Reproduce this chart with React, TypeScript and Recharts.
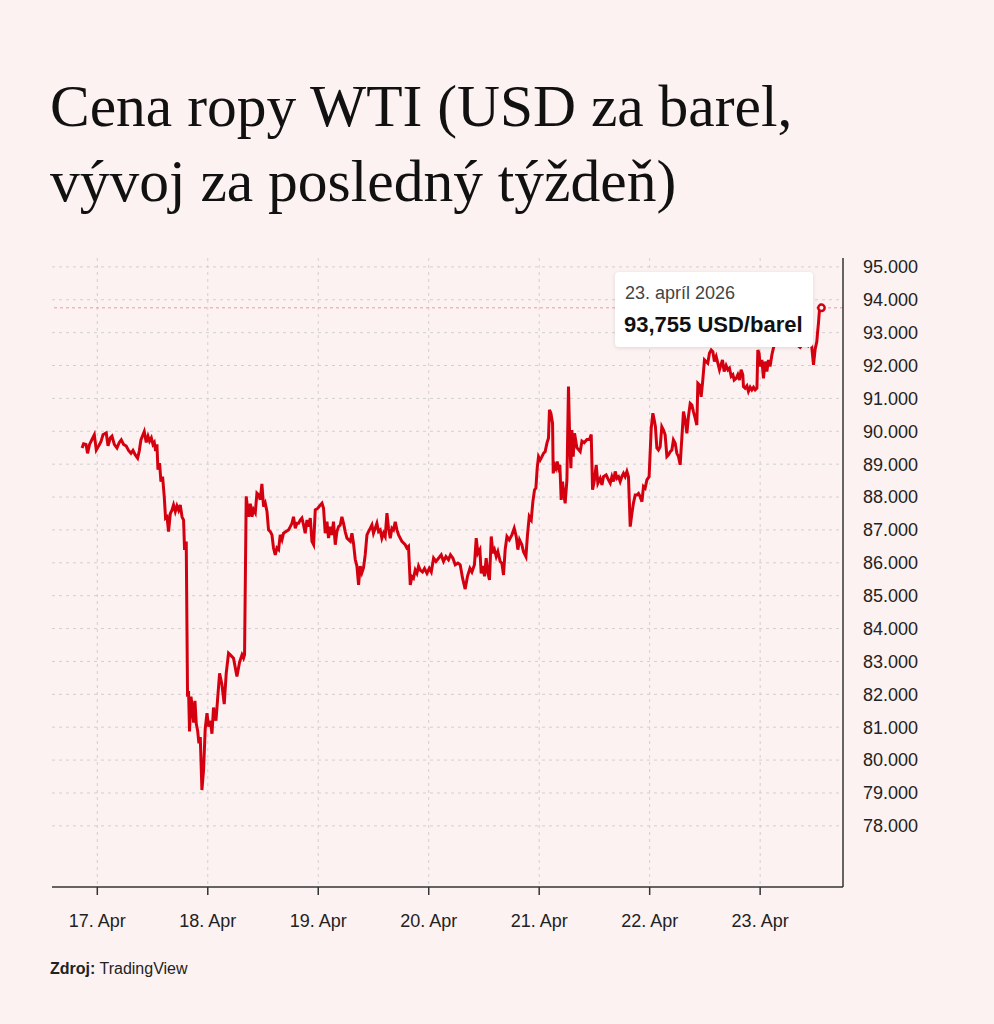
import { LineChart, Line, XAxis, YAxis, CartesianGrid, ReferenceLine, ReferenceDot } from "recharts";

// [deň od 17. apríla, cena v USD]
const APR17 = [
    [-0.138, 89.49], [-0.124, 89.62], [-0.102, 89.6], [-0.088, 89.33], [-0.07, 89.6], [-0.048, 89.75], [-0.027, 89.89],
    [-0.009, 89.43], [0.012, 89.55], [0.033, 89.68], [0.052, 89.9], [0.066, 89.92], [0.081, 89.95], [0.097, 89.56],
    [0.118, 89.8], [0.133, 89.85], [0.154, 89.6], [0.178, 89.49], [0.199, 89.66], [0.217, 89.74], [0.238, 89.6],
    [0.262, 89.55], [0.283, 89.42], [0.305, 89.33], [0.323, 89.42], [0.344, 89.28], [0.365, 89.18], [0.38, 89.4],
    [0.395, 89.74], [0.414, 89.9], [0.425, 89.99], [0.443, 89.66], [0.459, 89.85], [0.473, 89.7], [0.489, 89.8],
    [0.504, 89.6], [0.516, 89.66], [0.528, 89.4], [0.54, 89.6], [0.549, 88.83], [0.564, 89.03], [0.576, 88.47],
    [0.591, 88.62], [0.606, 88.01], [0.618, 87.36], [0.631, 87.4], [0.645, 86.95], [0.661, 87.5], [0.676, 87.6],
    [0.69, 87.76], [0.706, 87.56], [0.721, 87.73], [0.736, 87.6], [0.751, 87.76], [0.767, 87.4], [0.781, 87.3],
    [0.79, 86.39], [0.805, 86.65], [0.817, 81.93], [0.826, 82.1], [0.835, 80.87], [0.848, 81.93], [0.86, 81.6],
    [0.872, 81.14], [0.884, 81.8], [0.896, 81.1], [0.908, 80.9], [0.92, 80.51], [0.932, 80.7], [0.947, 79.09],
    [0.962, 79.7], [0.977, 80.96], [0.993, 81.43],
];

const APR18 = [
    [1.007, 81.02], [1.023, 81.2], [1.038, 80.8], [1.052, 81.6], [1.074, 81.2], [1.089, 81.85], [1.107, 82.64],
    [1.128, 82.3], [1.149, 81.7], [1.167, 82.64], [1.188, 83.25], [1.204, 83.2], [1.233, 83.1], [1.264, 82.54],
    [1.288, 82.98], [1.31, 83.2], [1.324, 83.1], [1.333, 83.2], [1.348, 88.02], [1.369, 87.4], [1.385, 87.8],
    [1.4, 87.4], [1.414, 87.62], [1.43, 87.52], [1.445, 88.12], [1.46, 88.07], [1.475, 87.92], [1.49, 88.4],
    [1.505, 87.71], [1.52, 87.82], [1.536, 87.56], [1.55, 87.0], [1.566, 86.95], [1.581, 86.85], [1.595, 86.45],
    [1.611, 86.24], [1.626, 86.45], [1.641, 86.4], [1.656, 86.85], [1.672, 86.7], [1.686, 86.9], [1.708, 86.95],
    [1.731, 87.0], [1.747, 87.1], [1.762, 87.2], [1.776, 87.4], [1.792, 87.05], [1.807, 87.2], [1.822, 87.2],
    [1.837, 87.3], [1.852, 87.36], [1.867, 87.15], [1.882, 86.9], [1.898, 87.3], [1.912, 87.1], [1.928, 87.36],
    [1.943, 86.65], [1.958, 86.55], [1.973, 87.61], [1.997, 87.66],
];

const APR19 = [
    [2.012, 87.73], [2.034, 87.81], [2.048, 87.66], [2.063, 86.9], [2.079, 87.25], [2.093, 86.75], [2.109, 87.1],
    [2.124, 86.85], [2.138, 87.25], [2.154, 86.55], [2.169, 86.95], [2.184, 87.1], [2.199, 87.15], [2.214, 87.4],
    [2.229, 87.2], [2.244, 86.95], [2.26, 86.75], [2.274, 86.7], [2.29, 86.65], [2.305, 86.9], [2.319, 86.6],
    [2.335, 86.1], [2.35, 85.9], [2.365, 85.33], [2.38, 85.9], [2.395, 85.7], [2.41, 85.85], [2.425, 86.24],
    [2.441, 86.85], [2.455, 86.95], [2.471, 87.05], [2.486, 87.15], [2.5, 86.9], [2.516, 87.05], [2.531, 87.2],
    [2.546, 86.95], [2.561, 87.0], [2.576, 86.75], [2.591, 86.9], [2.606, 86.8], [2.622, 87.51], [2.636, 87.05],
    [2.652, 86.75], [2.667, 87.05], [2.681, 87.0], [2.697, 87.25], [2.712, 87.0], [2.727, 86.85], [2.757, 86.65],
    [2.787, 86.55], [2.802, 86.45], [2.817, 86.5], [2.833, 85.33], [2.848, 85.58], [2.862, 85.53], [2.878, 85.78],
    [2.893, 85.68], [2.908, 85.9], [2.923, 85.78], [2.944, 85.72], [2.962, 85.83], [2.984, 85.68],
];

const APR20 = [
    [3.005, 85.83], [3.023, 85.72], [3.044, 86.14], [3.065, 86.04], [3.089, 86.14], [3.113, 86.24], [3.134, 86.04],
    [3.156, 86.19], [3.179, 86.09], [3.197, 86.24], [3.219, 86.14], [3.24, 85.94], [3.264, 85.99], [3.285, 85.94],
    [3.306, 85.54], [3.33, 85.2], [3.351, 85.59], [3.373, 85.83], [3.391, 85.72], [3.414, 85.94], [3.43, 86.75],
    [3.445, 86.29], [3.463, 86.4], [3.475, 85.68], [3.49, 85.9], [3.505, 85.59], [3.52, 86.14], [3.536, 85.68],
    [3.55, 85.48], [3.566, 86.8], [3.581, 86.29], [3.595, 86.4], [3.611, 86.19], [3.626, 86.34], [3.647, 86.04],
    [3.662, 85.99], [3.677, 85.63], [3.692, 86.4], [3.708, 86.8], [3.729, 86.7], [3.753, 86.85], [3.774, 87.05],
    [3.792, 86.8], [3.807, 86.4], [3.822, 86.7], [3.843, 86.55], [3.858, 86.34], [3.88, 86.19], [3.894, 86.85],
    [3.91, 87.41], [3.928, 87.31], [3.943, 87.87], [3.958, 88.22], [3.97, 88.27], [3.982, 88.88], [3.994, 89.23],
];

const APR21 = [
    [4.009, 89.13], [4.025, 89.23], [4.039, 89.33], [4.054, 89.38], [4.07, 89.64], [4.084, 89.79], [4.093, 90.65],
    [4.106, 90.55], [4.121, 90.24], [4.127, 88.72], [4.139, 88.98], [4.151, 88.88], [4.163, 89.08], [4.175, 88.88],
    [4.187, 88.98], [4.199, 87.91], [4.211, 88.47], [4.224, 88.06], [4.235, 87.81], [4.251, 88.52], [4.265, 91.36],
    [4.278, 89.53], [4.287, 88.88], [4.296, 90.04], [4.308, 89.23], [4.32, 89.94], [4.341, 89.5], [4.371, 89.38],
    [4.387, 89.7], [4.407, 89.65], [4.432, 89.75], [4.455, 89.75], [4.471, 89.9], [4.483, 88.22], [4.498, 88.47],
    [4.516, 88.98], [4.531, 88.42], [4.552, 88.57], [4.568, 88.37], [4.582, 88.62], [4.606, 88.67], [4.627, 88.52],
    [4.643, 88.42], [4.658, 88.62], [4.672, 88.47], [4.688, 88.78], [4.703, 88.57], [4.718, 88.62], [4.733, 88.47],
    [4.748, 88.62], [4.763, 88.72], [4.778, 88.62], [4.794, 88.78], [4.808, 88.62], [4.824, 87.1], [4.839, 87.5],
    [4.853, 87.81], [4.869, 88.06], [4.884, 88.06], [4.899, 88.11], [4.914, 88.01], [4.93, 87.86], [4.944, 88.32],
    [4.959, 88.27], [4.975, 88.52], [4.995, 88.62],
];

const APR22 = [
    [5.014, 90.09], [5.029, 90.55], [5.041, 90.35], [5.052, 90.14], [5.065, 89.49], [5.079, 89.43], [5.095, 89.53],
    [5.11, 90.14], [5.125, 90.04], [5.14, 89.89], [5.156, 89.23], [5.17, 89.28], [5.186, 89.38], [5.201, 89.43],
    [5.215, 89.74], [5.231, 89.64], [5.246, 89.33], [5.261, 89.23], [5.276, 88.98], [5.292, 89.84], [5.306, 90.6],
    [5.321, 90.35], [5.337, 89.94], [5.351, 90.45], [5.367, 90.85], [5.382, 90.8], [5.396, 90.6], [5.412, 90.4],
    [5.427, 90.19], [5.436, 91.46], [5.451, 91.41], [5.466, 91.05], [5.481, 91.56], [5.496, 92.17], [5.511, 92.12],
    [5.526, 92.07], [5.541, 92.37], [5.557, 92.47], [5.572, 92.42], [5.586, 92.12], [5.602, 92.27], [5.617, 92.07],
    [5.632, 91.87], [5.659, 92.17], [5.674, 91.82], [5.692, 92.0], [5.708, 91.87], [5.722, 91.92], [5.738, 91.67],
    [5.753, 91.72], [5.765, 91.56], [5.783, 91.61], [5.798, 91.72], [5.813, 91.56], [5.828, 91.87], [5.843, 91.72],
    [5.849, 91.36], [5.864, 91.31], [5.88, 91.38], [5.894, 91.21], [5.91, 91.34], [5.925, 91.26], [5.94, 91.34],
    [5.955, 91.26], [5.971, 91.31], [5.979, 92.47], [5.991, 92.37],
];

const APR23 = [
    [6.0, 91.97], [6.016, 92.17], [6.03, 91.61], [6.045, 92.12], [6.061, 91.82], [6.075, 92.17], [6.09, 91.97],
    [6.106, 92.32], [6.12, 92.53], [6.145, 92.8], [6.181, 93.05], [6.217, 93.2], [6.253, 92.95], [6.29, 92.8],
    [6.326, 92.65], [6.362, 92.55], [6.398, 92.7], [6.434, 92.6], [6.462, 92.75], [6.483, 92.02], [6.498, 92.5],
    [6.513, 92.73], [6.519, 92.98], [6.528, 93.29], [6.537, 93.69], [6.55, 93.79], [6.555, 93.755],
];

const DAY_TICKS = [0, 1, 2, 3, 4, 5, 6];
const DAY_LABELS = ["17. Apr", "18. Apr", "19. Apr", "20. Apr", "21. Apr", "22. Apr", "23. Apr"];
const PRICE_TICKS = [78, 79, 80, 81, 82, 83, 84, 85, 86, 87, 88, 89, 90, 91, 92, 93, 94, 95];

const LAST_DAY = 6.555;
const LAST_PRICE = 93.755;
const LAST_DATE = "23. apríl 2026";

const RED = "#d5000f";
const FONT = "'Liberation Sans', Arial, Helvetica, sans-serif";

const data = [...APR17, ...APR18, ...APR19, ...APR20, ...APR21, ...APR22, ...APR23].map(([t, price]) => ({ t, price }));

export default function App() {
    return (
        <div style={{ position: "absolute", left: 0, top: 0, width: 994, height: 1024, background: "#fdf2f2", overflow: "hidden" }}>
            <div
                style={{
                    position: "absolute",
                    left: 50,
                    top: 69,
                    fontFamily: "'Liberation Serif', 'Times New Roman', serif",
                    fontSize: 59.5,
                    lineHeight: "75px",
                    color: "#111",
                    whiteSpace: "nowrap",
                }}
            >
                <div>Cena ropy WTI (USD za barel,</div>
                <div>vývoj za posledný týždeň)</div>
            </div>

            <LineChart
                width={994}
                height={960}
                data={data}
                margin={{ top: 258, right: 0, bottom: 13, left: 52 }}
                style={{ position: "absolute", left: 0, top: 0 }}
            >
                <CartesianGrid
                    stroke="#d2cfcf"
                    strokeDasharray="3 4"
                    horizontalValues={PRICE_TICKS}
                    verticalValues={DAY_TICKS}
                />
                <XAxis
                    dataKey="t"
                    type="number"
                    domain={[-0.41, 6.75]}
                    ticks={DAY_TICKS}
                    allowDataOverflow
                    tickFormatter={(v: number) => DAY_LABELS[v]}
                    height={60}
                    stroke="#333"
                    strokeWidth={1.5}
                    tickSize={8}
                    tickMargin={19}
                    tick={{ fill: "#222", fontSize: 18, fontFamily: FONT }}
                />
                <YAxis
                    orientation="right"
                    type="number"
                    domain={[76.14, 95.27]}
                    ticks={PRICE_TICKS}
                    allowDataOverflow
                    tickFormatter={(v: number) => `${v}.000`}
                    width={151}
                    stroke="#333"
                    strokeWidth={1.5}
                    tickLine={false}
                    tickSize={0}
                    tickMargin={20}
                    tick={{ fill: "#222", fontSize: 18, fontFamily: FONT, textAnchor: "start" }}
                />
                <ReferenceLine y={LAST_PRICE} stroke="#f19a9a" strokeDasharray="3 3" />
                <Line
                    type="linear"
                    dataKey="price"
                    stroke={RED}
                    strokeWidth={3}
                    dot={false}
                    isAnimationActive={false}
                />
                <ReferenceDot x={LAST_DAY} y={LAST_PRICE} r={3.2} fill="#fdf2f2" stroke={RED} strokeWidth={2.5} />
            </LineChart>

            <div
                style={{
                    position: "absolute",
                    left: 615,
                    top: 272,
                    width: 198,
                    height: 75,
                    background: "#fff",
                    borderRadius: 4,
                    boxShadow: "0 1px 4px rgba(0,0,0,0.12)",
                    fontFamily: FONT,
                }}
            >
                <div style={{ position: "absolute", left: 10, top: 12, fontSize: 18, lineHeight: "18px", color: "#444", whiteSpace: "nowrap" }}>
                    {LAST_DATE}
                </div>
                <div style={{ position: "absolute", left: 9, top: 42, fontSize: 22, lineHeight: "22px", fontWeight: 700, color: "#111", whiteSpace: "nowrap" }}>
                    {LAST_PRICE.toFixed(3).replace(".", ",")} USD/barel
                </div>
            </div>

            <div style={{ position: "absolute", left: 50, top: 961, fontFamily: FONT, fontSize: 16, lineHeight: "16px", color: "#222" }}>
                <b>Zdroj:</b> TradingView
            </div>
        </div>
    );
}
